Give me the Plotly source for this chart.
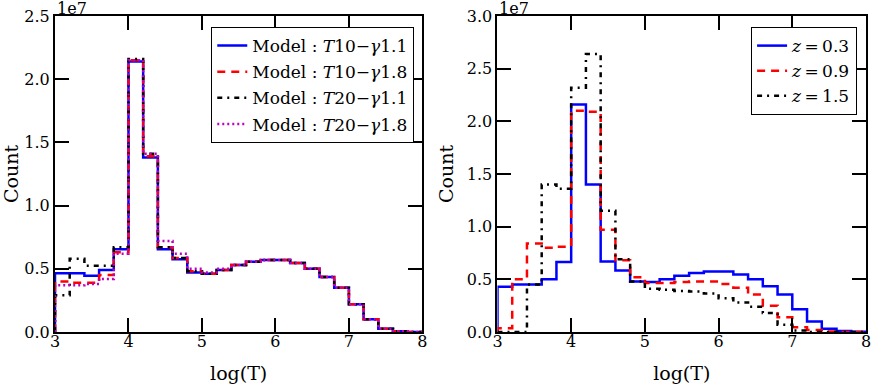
import plotly.graph_objects as go

# bin edges of the log(T) histograms
bin_edges = [3.0, 3.2, 3.4, 3.6, 3.8, 4.0, 4.2, 4.4, 4.6, 4.8, 5.0, 5.2, 5.4,
             5.6, 5.8, 6.0, 6.2, 6.4, 6.6, 6.8, 7.0, 7.2, 7.4, 7.6, 7.8, 8.0]

# counts per bin, in units of 1e7
# left panel: different thermal models
t10_g11 = [0.465, 0.465, 0.445, 0.49, 0.655, 2.14, 1.38, 0.655, 0.575, 0.47,
           0.46, 0.49, 0.53, 0.555, 0.57, 0.57, 0.545, 0.50, 0.435, 0.35,
           0.22, 0.10, 0.025, 0.006, 0.0]
t10_g18 = [0.40, 0.39, 0.39, 0.45, 0.63, 2.15, 1.39, 0.67, 0.585, 0.48,
           0.46, 0.49, 0.53, 0.555, 0.57, 0.57, 0.545, 0.50, 0.435, 0.35,
           0.22, 0.10, 0.025, 0.006, 0.0]
t20_g11 = [0.29, 0.58, 0.525, 0.525, 0.67, 2.16, 1.41, 0.67, 0.585, 0.48,
           0.46, 0.49, 0.53, 0.555, 0.57, 0.57, 0.545, 0.50, 0.435, 0.35,
           0.22, 0.10, 0.025, 0.006, 0.0]
t20_g18 = [0.37, 0.37, 0.38, 0.42, 0.62, 2.15, 1.41, 0.72, 0.62, 0.50,
           0.47, 0.50, 0.53, 0.555, 0.57, 0.57, 0.545, 0.50, 0.435, 0.35,
           0.22, 0.10, 0.025, 0.006, 0.0]

# right panel: different redshifts
z03 = [0.43, 0.45, 0.45, 0.50, 0.665, 2.16, 1.40, 0.67, 0.585, 0.48,
       0.475, 0.50, 0.535, 0.56, 0.575, 0.575, 0.545, 0.50, 0.435, 0.355,
       0.215, 0.10, 0.03, 0.01, 0.003]
z09 = [0.035, 0.50, 0.84, 0.80, 0.81, 2.10, 2.09, 0.97, 0.68, 0.52,
       0.465, 0.465, 0.475, 0.48, 0.48, 0.455, 0.42, 0.355, 0.25, 0.14,
       0.045, 0.02, 0.005, 0.0, 0.0]
z15 = [0.0, 0.0, 0.45, 1.40, 1.36, 2.32, 2.64, 1.15, 0.69, 0.48,
       0.41, 0.40, 0.39, 0.385, 0.365, 0.32, 0.28, 0.24, 0.18, 0.07,
       0.015, 0.0, 0.0, 0.0, 0.0]

left_names = ["Model : <i>T</i>10\u2212<i>\u03b3</i>1.1",
              "Model : <i>T</i>10\u2212<i>\u03b3</i>1.8",
              "Model : <i>T</i>20\u2212<i>\u03b3</i>1.1",
              "Model : <i>T</i>20\u2212<i>\u03b3</i>1.8"]
right_names = ["<i>z</i>\u2009=\u20090.3", "<i>z</i>\u2009=\u20090.9", "<i>z</i>\u2009=\u20091.5"]

FONT = "DejaVu Serif"
styles = [dict(color="#0000ff", width=2.5, dash="solid"),
          dict(color="#ff0000", width=2.5, dash="8px,6px"),
          dict(color="#000000", width=2.5, dash="5px,5px,2px,5px"),
          dict(color="#bf00bf", width=2.5, dash="2px,3px")]


def step_xy(values):
    # matplotlib-like "step" histogram outline
    x = [bin_edges[0]] + bin_edges
    y = [0] + list(values) + [0]
    return x, y


fig = go.Figure()

for i, (vals, name, st) in enumerate(zip([t10_g11, t10_g18, t20_g11, t20_g18], left_names, styles)):
    x, y = step_xy(vals)
    fig.add_trace(go.Scatter(x=x, y=y, mode="lines", line=dict(shape="hv", **st),
                             name=name, legendgroup="l%d" % i,
                             xaxis="x", yaxis="y", legend="legend"))

for i, (vals, name, st) in enumerate(zip([z03, z09, z15], right_names, styles[:3])):
    x, y = step_xy(vals)
    fig.add_trace(go.Scatter(x=x, y=y, mode="lines", line=dict(shape="hv", **st),
                             name=name, legendgroup="r%d" % i,
                             xaxis="x2", yaxis="y2", legend="legend2"))

axis_style = dict(showgrid=False, zeroline=False, showline=True, linecolor="black",
                  linewidth=2, mirror="allticks", ticks="inside", ticklen=14,
                  tickwidth=2, tickcolor="black", automargin=False,
                  tickfont=dict(family=FONT, size=16, color="black"))

fig.update_layout(
    width=872, height=384,
    margin=dict(l=55, r=6, t=16, b=52),
    plot_bgcolor="white", paper_bgcolor="white",
    font=dict(family=FONT, size=16, color="black"),
    xaxis=dict(domain=[0, 0.453], range=[3, 8], tickvals=[3, 4, 5, 6, 7, 8],
               ticklabelstandoff=-6,
               title=dict(text="log(T)", standoff=16), anchor="y", **axis_style),
    yaxis=dict(domain=[0, 1], range=[0, 2.5], dtick=0.5, tickformat=".1f",
               title=dict(text="Count", standoff=8), anchor="x", **axis_style),
    xaxis2=dict(domain=[0.5456, 1], range=[3, 8], tickvals=[3, 4, 5, 6, 7, 8],
                ticklabelstandoff=-6,
                title=dict(text="log(T)", standoff=16), anchor="y2", **axis_style),
    yaxis2=dict(domain=[0, 1], range=[0, 3.0], dtick=0.5, tickformat=".1f",
                title=dict(text="Count", standoff=8), anchor="x2", **axis_style),
    legend=dict(x=0.443, y=0.965, xanchor="right", yanchor="top",
                bgcolor="white", bordercolor="black", borderwidth=1,
                tracegroupgap=1, font=dict(family=FONT, size=17)),
    legend2=dict(x=0.989, y=0.965, xanchor="right", yanchor="top",
                 bgcolor="white", bordercolor="black", borderwidth=1,
                 tracegroupgap=0, font=dict(family=FONT, size=17)),
)

# the "1e7" offset labels above each y axis
for x0 in [0, 0.5456]:
    fig.add_annotation(text="1e7", xref="paper", yref="paper", x=x0, y=1,
                       xanchor="left", yanchor="bottom", yshift=-4, showarrow=False,
                       font=dict(family=FONT, size=16))

# drop the default page margin so the figure fills the window
fig.write_html("out.html", config={"displayModeBar": False},
               post_script="document.body.style.margin='0';")
